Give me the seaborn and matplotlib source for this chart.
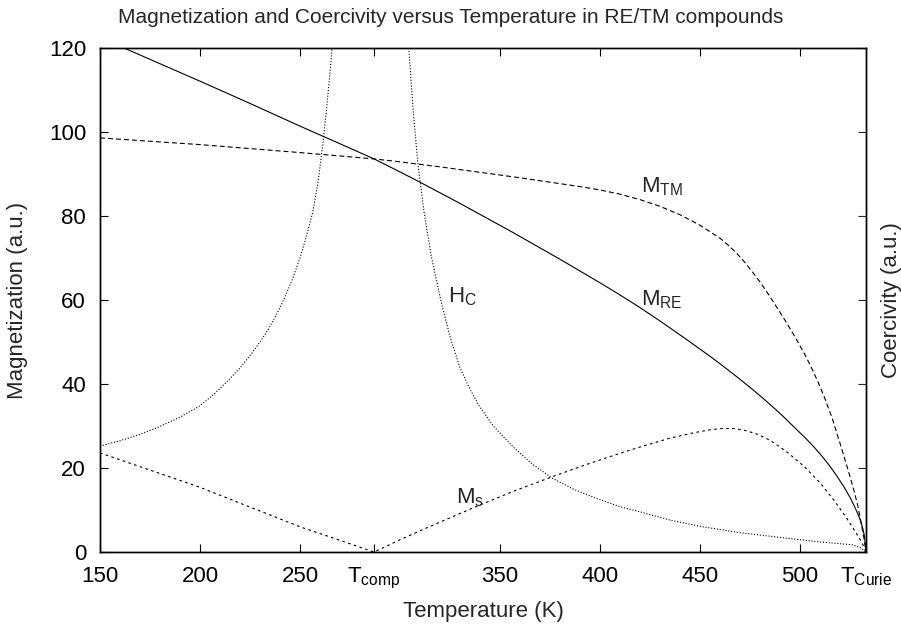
import matplotlib
matplotlib.use("Agg")
import matplotlib.pyplot as plt
import seaborn as sns
import pandas as pd

# Temperatures of the two special points (K)
T_COMP = 287
T_CURIE = 533

# Rare-earth sublattice magnetization
t_re = [150, 162, 200, 225, 250, 270, 287, 300, 311, 330, 356, 380, 400, 410,
        420, 430, 443, 455, 462, 469, 475, 481, 487, 492, 498, 503, 507, 511,
        515, 518, 522, 525, 527, 529, 530.5, 531.5, 532.3, 533]
m_re = [122.6, 120.0, 112.1, 106.8, 101.4, 97.2, 93.6, 90.5, 87.8, 83.0, 76.2,
        69.7, 64.1, 61.2, 58.2, 55.0, 50.7, 46.6, 44.1, 41.5, 39.2, 36.8, 34.3,
        32.1, 29.3, 27.0, 25.0, 22.8, 20.4, 18.4, 15.5, 13.0, 11.1, 9.0, 7.1,
        5.4, 3.6, 0.0]

# Transition-metal sublattice magnetization
t_tm = [150, 200, 250, 287, 300, 320, 340, 360, 380, 390, 400, 410, 420, 430,
        440, 450, 460, 464, 468, 472, 476, 480, 485, 489, 493, 498, 503, 506,
        509, 512, 516, 520, 524, 527, 529, 530.6, 532, 533]
m_tm = [98.6, 97.0, 95.1, 93.6, 92.9, 91.7, 90.4, 89.1, 87.7, 87.0, 86.2, 85.2,
        83.9, 82.3, 80.3, 77.8, 74.7, 73.1, 71.3, 69.2, 66.8, 64.3, 60.8, 57.8,
        54.8, 50.8, 46.5, 43.6, 40.5, 37.1, 32.0, 25.9, 19.6, 14.6, 10.8, 6.8,
        3.2, 0.0]

# Net (saturation) magnetization
t_ms = [150, 175, 200, 225, 250, 268, 287, 300, 315, 340, 358, 376, 393, 410,
        420, 435, 447, 455, 461, 467, 473, 479, 485, 493, 502, 510, 517, 523,
        528, 531, 533]
m_ms = [23.6, 19.5, 15.4, 10.7, 6.0, 3.1, 0.0, 2.9, 6.1, 11.2, 14.7, 17.9, 20.8,
        23.5, 25.0, 27.1, 28.4, 29.1, 29.4, 29.4, 28.9, 28.0, 26.6, 24.0, 20.4,
        16.5, 12.3, 8.3, 4.6, 2.2, 0.0]

# Coercivity, below and above the compensation point
t_hc_low = [150, 160, 170, 180, 190, 200, 207, 214, 220, 226, 230, 234, 238,
            242, 246, 250, 253, 256.4, 259, 261.4, 263.5, 266.1]
h_hc_low = [25.2, 26.5, 28.0, 29.9, 32.1, 34.8, 37.6, 40.8, 43.8, 47.4, 50.0,
            52.9, 56.3, 60.2, 64.7, 70.0, 74.8, 81.0, 88.0, 97.0, 106.5, 120.0]
t_hc_high = [304.4, 306.5, 308.9, 312, 315.6, 320.6, 325, 329.8, 334.5, 339.8,
             347, 356.4, 366, 376.4, 387, 398.1, 409.8, 419.8, 435, 451.4, 470,
             493.1, 510, 526.4, 530, 533]
h_hc_high = [120.0, 105.6, 92.6, 81.0, 70.5, 59.5, 51.3, 44.1, 39.2, 34.6, 29.8,
             25.1, 21.0, 17.5, 14.9, 12.8, 10.8, 9.6, 7.6, 6.0, 4.6, 3.3, 2.4,
             1.7, 1.1, 0.0]

x_ticks = [150, 200, 250, T_COMP, 350, 400, 450, 500, T_CURIE]
x_tick_labels = ["150", "200", "250", r"$\mathregular{T_{comp}}$", "350", "400",
                 "450", "500", r"$\mathregular{T_{Curie}}$"]
y_ticks = [0, 20, 40, 60, 80, 100, 120]

sns.set_style("ticks")
plt.rcParams["font.family"] = ["Liberation Sans", "DejaVu Sans"]
plt.rcParams["mathtext.fontset"] = "custom"
plt.rcParams["mathtext.rm"] = "Liberation Sans"
plt.rcParams["mathtext.it"] = "Liberation Sans:italic"
plt.rcParams["font.size"] = 16

W, H = 901, 628
fig = plt.figure(figsize=(W / 100, H / 100), dpi=100)
ax = fig.add_axes([100 / W, 1 - 552 / H, 766 / W, 504 / H])
ax2 = ax.twinx()

LW = 0.8
black = "#000000"

sns.lineplot(data=pd.DataFrame({"T": t_re, "M": m_re}), x="T", y="M", ax=ax,
             color=black, lw=LW, sort=False, errorbar=None, linestyle="-")
sns.lineplot(data=pd.DataFrame({"T": t_tm, "M": m_tm}), x="T", y="M", ax=ax,
             color=black, lw=LW, sort=False, errorbar=None,
             linestyle=(0, (4.5, 2.7)))
sns.lineplot(data=pd.DataFrame({"T": t_ms, "M": m_ms}), x="T", y="M", ax=ax,
             color=black, lw=LW, sort=False, errorbar=None,
             linestyle=(0, (2.4, 3.0)))
for tt, hh in ((t_hc_low, h_hc_low), (t_hc_high, h_hc_high)):
    sns.lineplot(data=pd.DataFrame({"T": tt, "H": hh}), x="T", y="H", ax=ax2,
                 color=black, lw=LW, sort=False, errorbar=None,
                 linestyle=(0, (1.0, 1.6)))

for a in (ax, ax2):
    a.set_xlim(150, T_CURIE)
    a.set_ylim(0, 120)
    a.set_xlabel("")
    a.set_ylabel("")
    for s in a.spines.values():
        s.set_visible(True)
        s.set_linewidth(1.0)
        s.set_color(black)

ax.set_xticks(x_ticks)
ax.set_xticklabels(x_tick_labels)
ax.set_yticks(y_ticks)
ax.tick_params(axis="x", direction="in", length=5.5, width=0.8, top=True,
               pad=10, labelsize=16, colors=black)
ax.tick_params(axis="y", direction="in", length=5.5, width=0.8, right=False,
               pad=10, labelsize=16, colors=black)
ax2.set_yticks(y_ticks)
ax2.tick_params(axis="y", direction="in", length=5.5, width=0.8, right=True,
                labelright=False)

# Curve labels
ax.text(420.6, 85.5, r"$\mathregular{M_{TM}}$", ha="left", va="baseline", fontsize=16)
ax.text(420.6, 58.6, r"$\mathregular{M_{RE}}$", ha="left", va="baseline", fontsize=16)
ax.text(323.9, 59.5, r"$\mathregular{H_{C}}$", ha="left", va="baseline", fontsize=16)
ax.text(327.8, 11.6, r"$\mathregular{M_{s}}$", ha="left", va="baseline", fontsize=16)

fig.text(0.5, 1 - 23 / H,
         "Magnetization and Coercivity versus Temperature in RE/TM compounds",
         ha="center", va="baseline", fontsize=15)
fig.text(483 / W, 1 - 617 / H, "Temperature (K)", ha="center", va="baseline",
         fontsize=16)
fig.text(18 / W, 1 - 300 / H, "Magnetization (a.u.)", rotation=90,
         ha="center", va="center", fontsize=16)
fig.text(891 / W, 1 - 300 / H, "Coercivity (a.u.)", rotation=90,
         ha="center", va="center", fontsize=16)

fig.savefig("out.png", dpi=100)
